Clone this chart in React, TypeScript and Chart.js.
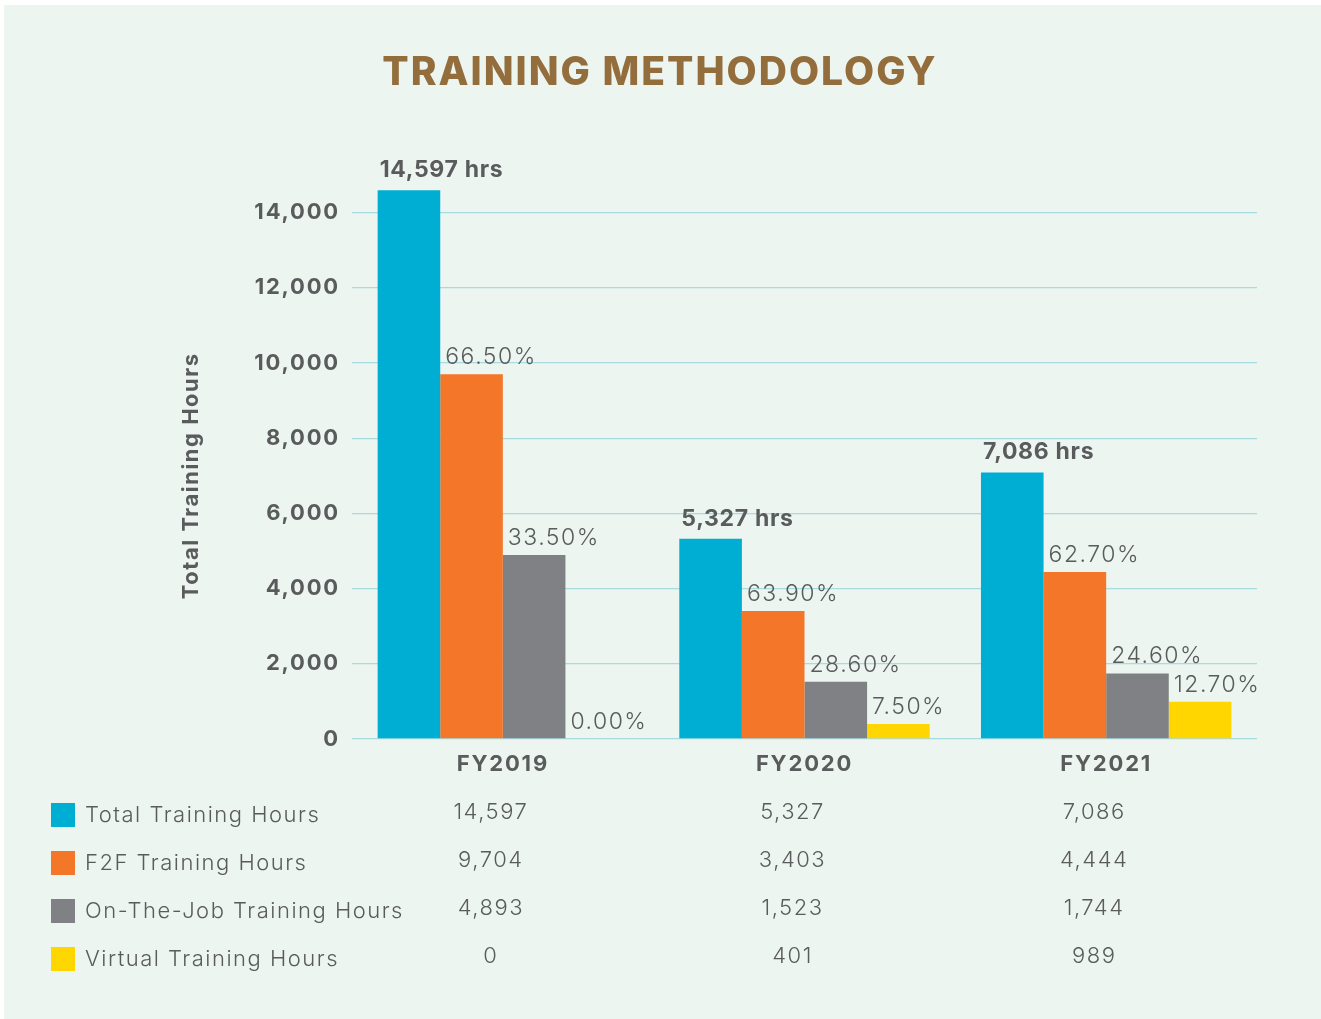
import React, { useEffect, useRef } from "react";
import { Chart, registerables } from "chart.js";

Chart.register(...registerables);

const categories = ["FY2019", "FY2020", "FY2021"];
const seriesNames = [
  "Total Training Hours",
  "F2F Training Hours",
  "On-The-Job Training Hours",
  "Virtual Training Hours",
];
const totalHours = [14597, 5327, 7086];
const f2fHours = [9704, 3403, 4444];
const ojtHours = [4893, 1523, 1744];
const virtualHours = [0, 401, 989];
const f2fPct = ["66.50%", "63.90%", "62.70%"];
const ojtPct = ["33.50%", "28.60%", "24.60%"];
const virtualPct = ["0.00%", "7.50%", "12.70%"];
const yTicks = [0, 2000, 4000, 6000, 8000, 10000, 12000, 14000];

const COLORS = ["#00AED4", "#F47629", "#808184", "#FFD600"];
const TEXT = "#5A5B5D";
const FONT = "Inter, 'Open Sans', sans-serif";
const fmt = (v: number) => v.toLocaleString("en-US");

const decorPlugin = {
  id: "decor",
  beforeDraw(chart: any) {
    const { ctx, width, height } = chart;
    ctx.save();
    ctx.fillStyle = "#FFFFFF";
    ctx.fillRect(0, 0, width, height);
    ctx.fillStyle = "#ECF5F0";
    ctx.fillRect(4, 5, width - 4, height - 5);
    // title
    ctx.fillStyle = "#936E3C";
    ctx.font = `800 39px ${FONT}`;
    ctx.textAlign = "center";
    ctx.textBaseline = "middle";
    (ctx as any).letterSpacing = "2px";
    ctx.fillText("TRAINING METHODOLOGY", 660, 73);
    // y axis title
    const ys = chart.scales.y;
    const cy = (ys.getPixelForValue(0) + ys.getPixelForValue(14000)) / 2;
    ctx.translate(191, cy);
    ctx.rotate(-Math.PI / 2);
    ctx.fillStyle = TEXT;
    ctx.font = `bold 22px ${FONT}`;
    (ctx as any).letterSpacing = "1.5px";
    ctx.fillText("Total Training Hours", 0, 0);
    ctx.restore();
    // spacing used by the axis tick labels drawn by Chart.js
    (ctx as any).letterSpacing = "1.8px";
  },
  afterDatasetsDraw(chart: any) {
    const { ctx } = chart;
    ctx.save();
    ctx.textAlign = "left";
    ctx.textBaseline = "middle";
    ctx.fillStyle = TEXT;
    const pctSets = [null, f2fPct, ojtPct, virtualPct];
    chart.data.datasets.forEach((ds: any, di: number) => {
      const meta = chart.getDatasetMeta(di);
      meta.data.forEach((bar: any, i: number) => {
        const left = bar.x - bar.width / 2;
        if (di === 0) {
          ctx.font = `bold 23px ${FONT}`;
          (ctx as any).letterSpacing = "0.7px";
          ctx.fillText(`${fmt(ds.data[i])} hrs`, left + 2, bar.y - 20);
        } else {
          ctx.font = `300 23px ${FONT}`;
          (ctx as any).letterSpacing = "1.5px";
          ctx.fillText((pctSets[di] as string[])[i], left + 5, bar.y - 17);
        }
      });
    });
    ctx.restore();
  },
  afterDraw(chart: any) {
    const { ctx } = chart;
    const xs = chart.scales.x;
    const bottom = chart.chartArea.bottom;
    const allSeries = [totalHours, f2fHours, ojtHours, virtualHours];
    ctx.save();
    ctx.textBaseline = "middle";
    (ctx as any).letterSpacing = "1.5px";
    seriesNames.forEach((name, r) => {
      const cy = bottom + 76 + r * 48;
      ctx.fillStyle = COLORS[r];
      ctx.fillRect(51, cy - 12, 24, 24);
      ctx.fillStyle = TEXT;
      ctx.font = `300 22px ${FONT}`;
      ctx.textAlign = "left";
      ctx.fillText(name, 85, cy);
      ctx.textAlign = "center";
      categories.forEach((_, c) => {
        ctx.fillText(fmt(allSeries[r][c]), xs.getPixelForValue(c) - 12, cy - 3);
      });
    });
    ctx.restore();
    (ctx as any).letterSpacing = "0px";
  },
};

export default function App() {
  const ref = useRef<HTMLCanvasElement>(null);
  useEffect(() => {
    document.body.style.margin = "0";
    const chart = new Chart(ref.current as HTMLCanvasElement, {
      type: "bar",
      data: {
        labels: categories,
        datasets: [totalHours, f2fHours, ojtHours, virtualHours].map((d, i) => ({
          label: seriesNames[i],
          data: d,
          backgroundColor: COLORS[i],
          borderWidth: 0,
          barPercentage: 1,
          categoryPercentage: 0.83,
        })),
      },
      options: {
        animation: false,
        responsive: false,
        devicePixelRatio: 1,
        layout: { padding: { top: 175, right: 64, left: 0, bottom: 0 } },
        plugins: { legend: { display: false }, tooltip: { enabled: false } },
        scales: {
          y: {
            min: 0,
            max: 15000,
            afterFit(scale: any) {
              scale.width = 352;
            },
            afterBuildTicks(scale: any) {
              scale.ticks = yTicks.map((v) => ({ value: v }));
            },
            ticks: {
              padding: 12,
              color: TEXT,
              font: { family: FONT, size: 22, weight: "bold" },
              callback: (v: any) => fmt(Number(v)),
            },
            grid: { color: "#A8DBE0", lineWidth: 1.3, drawTicks: false },
            border: { display: false },
          },
          x: {
            afterFit(scale: any) {
              scale.height = 1019 - 739;
            },
            ticks: {
              padding: 12,
              color: TEXT,
              font: { family: FONT, size: 22, weight: "bold" },
            },
            grid: { display: false, drawTicks: false },
            border: { display: false },
          },
        },
      },
      plugins: [decorPlugin],
    });
    return () => chart.destroy();
  }, []);
  return (
    <div style={{ position: "absolute", left: 0, top: 0, width: 1321, height: 1019 }}>
      <canvas ref={ref} width={1321} height={1019} />
    </div>
  );
}
